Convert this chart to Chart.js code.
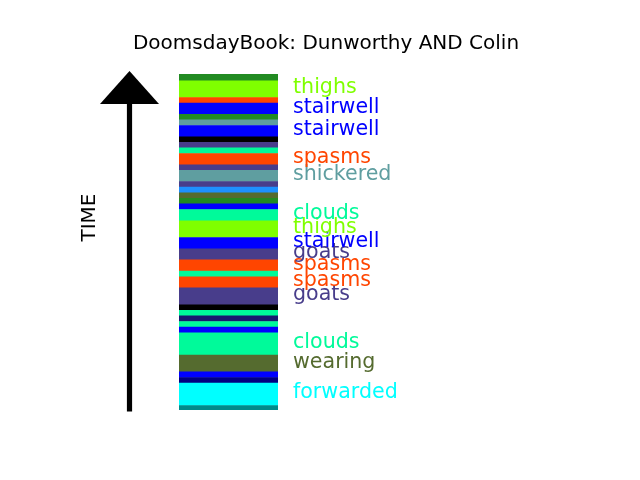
<!DOCTYPE html>
<html>
<head>
<meta charset="utf-8">
<script src="https://cdn.jsdelivr.net/npm/chart.js@4.4.1/dist/chart.umd.min.js"></script>
<style>
  html, body { margin: 0; padding: 0; background: #fff; }
  #wrap { width: 640px; height: 480px; }
</style>
</head>
<body>
<div id="wrap"><canvas id="timeline"></canvas></div>
<script>
// Segments, bottom (earliest) to top (latest), in time units
const segLengths = [0.8, 4, 1, 1, 3, 4, 1, 1, 1, 1, 1, 3, 2, 1, 2, 2, 2, 3, 2, 1,
                    1, 1, 1, 1, 2, 1, 2, 1, 1, 1, 2, 1, 1, 2, 1, 3, 1.2];
const segColors = ['#008b8b', '#00ffff', '#000080', '#0000ff', '#556b2f', '#00fa9a',
                   '#0000ff', '#00fa9a', '#191970', '#00fa9a', '#000000', '#483d8b',
                   '#ff4500', '#00fa9a', '#ff4500', '#483d8b', '#0000ff', '#7fff00',
                   '#00fa9a', '#0000ff', '#228b22', '#556b2f', '#1e90ff', '#483d8b',
                   '#5f9ea0', '#483d8b', '#ff4500', '#00fa9a', '#483d8b', '#000000',
                   '#0000ff', '#5f9ea0', '#228b22', '#0000ff', '#ff4500', '#7fff00',
                   '#228b22'];
// word shown beside a segment (null = no label)
const segWords = [null, 'forwarded', null, null, 'wearing', 'clouds', null, null, null, null,
                  null, 'goats', 'spasms', null, 'spasms', 'goats', 'stairwell', 'thighs',
                  'clouds', null, null, null, null, null, 'shickered', null, 'spasms',
                  null, null, null, 'stairwell', null, null, 'stairwell', null, 'thighs',
                  null];
const titleText = 'DoomsdayBook: Dunworthy AND Colin';
const axisLabel = 'TIME';

const totalTime = segLengths.reduce((a, b) => a + b, 0);

const datasets = segLengths.map((len, i) => ({
    label: segWords[i] || '',
    data: [len],
    backgroundColor: segColors[i],
    borderWidth: 0,
    categoryPercentage: 1.0,
    barPercentage: 1.0
}));

const FONT = '"DejaVu Sans", sans-serif';

// Title, time arrow and word labels
const decorPlugin = {
    id: 'decor',
    afterDraw(chart) {
        const ctx = chart.ctx;
        const y = chart.scales.y;
        ctx.save();

        ctx.fillStyle = '#000';
        ctx.font = '20px ' + FONT;
        ctx.textAlign = 'center';
        ctx.textBaseline = 'alphabetic';
        ctx.fillText(titleText, 326, 49);

        // arrow
        const x0 = 129.5;
        ctx.fillRect(x0 - 2.6, 100, 5.2, y.getPixelForValue(0) + 1.5 - 100);
        ctx.beginPath();
        ctx.moveTo(x0, 71);
        ctx.lineTo(x0 - 29.5, 104);
        ctx.lineTo(x0 + 29.5, 104);
        ctx.closePath();
        ctx.fill();

        ctx.save();
        ctx.translate(95, 217.5);
        ctx.rotate(-Math.PI / 2);
        ctx.textAlign = 'center';
        ctx.fillText(axisLabel, 0, 0);
        ctx.restore();

        // labels
        ctx.font = '20.6px ' + FONT;
        ctx.textAlign = 'left';
        let start = 0;
        segLengths.forEach((len, i) => {
            if (segWords[i]) {
                const py = y.getPixelForValue(start + len / 2);
                ctx.fillStyle = segColors[i];
                ctx.fillText(segWords[i], 293, py + 4);
            }
            start += len;
        });
        ctx.restore();
    }
};

new Chart(document.getElementById('timeline'), {
    type: 'bar',
    data: { labels: [''], datasets: datasets },
    options: {
        responsive: true,
        maintainAspectRatio: false,
        animation: false,
        layout: { padding: { left: 179, right: 362, top: 74, bottom: 70 } },
        scales: {
            x: { stacked: true, display: false },
            y: { stacked: true, display: false, min: 0, max: totalTime }
        },
        plugins: {
            legend: { display: false },
            tooltip: { enabled: false }
        }
    },
    plugins: [decorPlugin]
});
</script>
</body>
</html>
